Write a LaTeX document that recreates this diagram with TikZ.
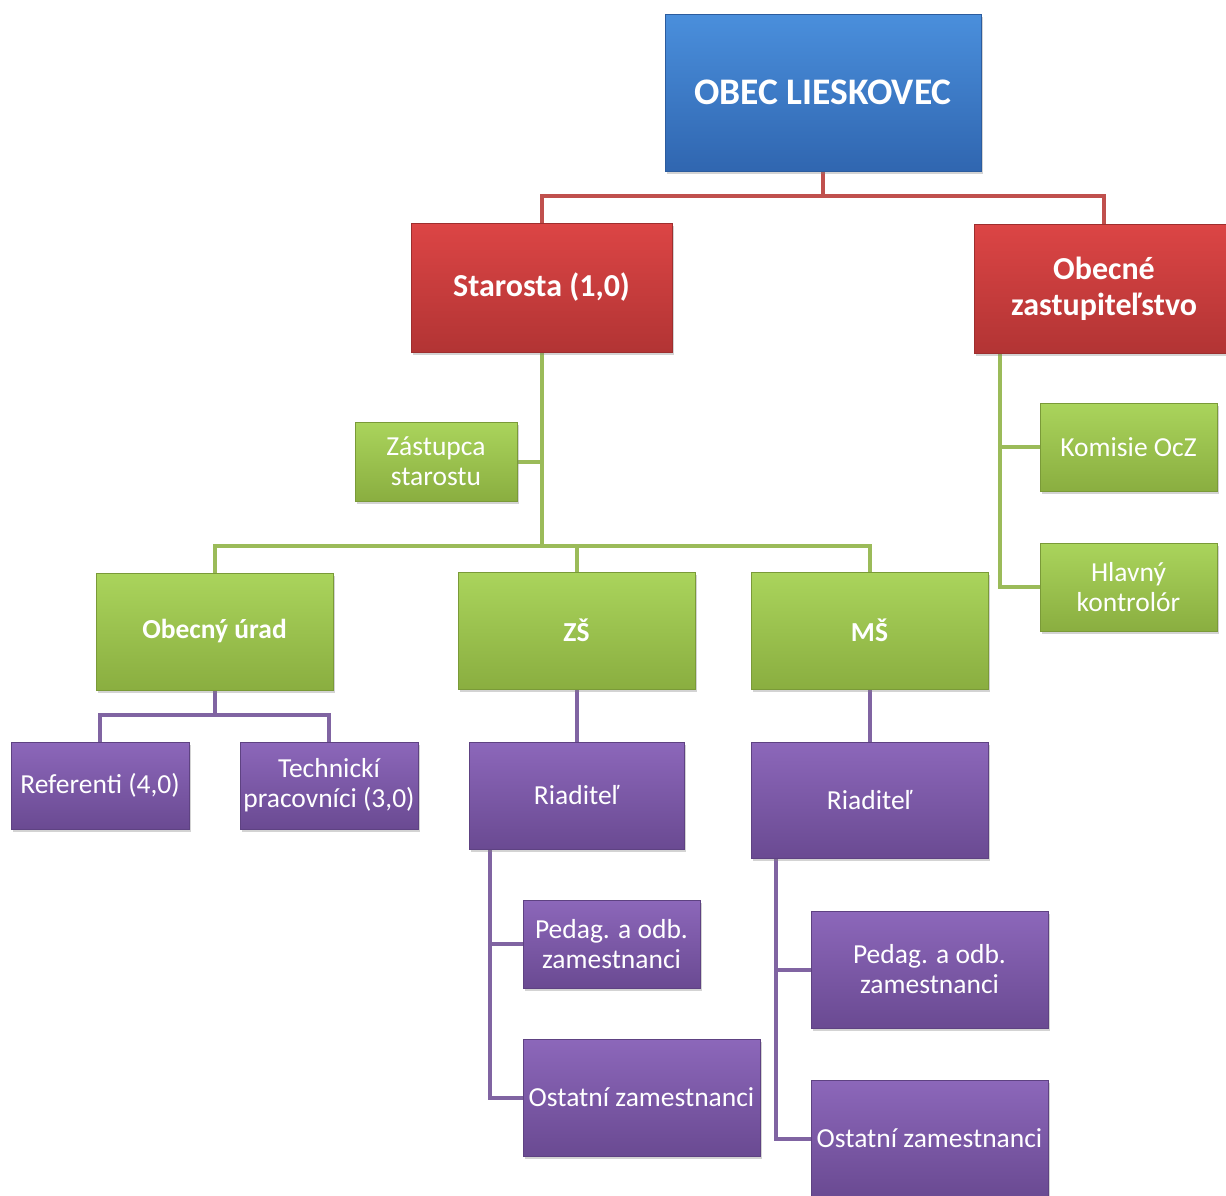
\documentclass[tikz,border=0pt]{standalone}
\usepackage{fontspec}
\setmainfont{Carlito}
\usetikzlibrary{shadows,backgrounds}
\definecolor{blueT}{HTML}{4A8FDC}
\definecolor{blueB}{HTML}{3066B0}
\definecolor{blueD}{HTML}{2C5C9E}
\definecolor{redT}{HTML}{DC4545}
\definecolor{redB}{HTML}{B23434}
\definecolor{redD}{HTML}{9E2E2E}
\definecolor{greenT}{HTML}{AAD45C}
\definecolor{greenB}{HTML}{8AAE40}
\definecolor{greenD}{HTML}{7A9A38}
\definecolor{purpT}{HTML}{8C67BA}
\definecolor{purpB}{HTML}{6A4A92}
\definecolor{purpD}{HTML}{5E4282}
\definecolor{redL}{HTML}{C0504D}
\definecolor{greenL}{HTML}{9BBB59}
\definecolor{purpL}{HTML}{8064A2}
\tikzset{
  box/.style={rectangle, inner sep=0pt, align=center, text=white,
    line width=0.8pt,
    font=\fontsize{27.5}{30}\selectfont,
    drop shadow={shadow xshift=2pt, shadow yshift=-3pt, opacity=0.35}},
  bluebox/.style={box, top color=blueT, bottom color=blueB, draw=blueD,
    font=\fontsize{37.5}{40}\selectfont\bfseries},
  redbox/.style={box, top color=redT, bottom color=redB, draw=redD,
    font=\fontsize{32}{36}\selectfont\bfseries},
  greenbox/.style={box, top color=greenT, bottom color=greenB, draw=greenD},
  boldgreen/.style={greenbox, minimum width=237pt, minimum height=117pt,
    font=\fontsize{27.5}{30}\selectfont\bfseries},
  purpbox/.style={box, top color=purpT, bottom color=purpB, draw=purpD},
  conn/.style={line width=4pt},
  redconn/.style={conn, draw=redL},
  greenconn/.style={conn, draw=greenL},
  purpconn/.style={conn, draw=purpL}
}
\begin{document}
\begin{tikzpicture}[x=1pt,y=-1pt]
\useasboundingbox (0,0) rectangle (1226,1195);

\node[bluebox, minimum width=316pt, minimum height=157pt] (obec) at (823,92.5) {OBEC LIESKOVEC};
\node[redbox, minimum width=261pt, minimum height=129pt] (staro) at (541.5,287.5) {Starosta (1,0)};
\node[redbox, minimum width=260pt, minimum height=129pt] (zast) at (1104,288.5) {Obecné\\zastupiteľstvo};

\node[greenbox, minimum width=162pt, minimum height=79pt] (zas) at (436,461.5) {Zástupca\\starostu};
\node[greenbox, minimum width=177pt, minimum height=88pt] (kom) at (1128.5,447) {Komisie OcZ};
\node[greenbox, minimum width=177pt, minimum height=88pt] (kon) at (1128.5,587) {Hlavný\\kontrolór};
\node[boldgreen] (urad) at (214.5,631.5) {Obecný úrad};
\node[boldgreen] (zs) at (576.5,630.5) {ZŠ};
\node[boldgreen] (ms) at (869.5,630.5) {MŠ};

\node[purpbox, minimum width=178pt, minimum height=87pt] (ref) at (100,785.5) {Referenti (4,0)};
\node[purpbox, minimum width=178pt, minimum height=87pt] (tech) at (329,785.5) {Technickí\\pracovníci (3,0)};
\node[purpbox, minimum width=215pt, minimum height=107pt] (rzs) at (576.5,795.5) {Riaditeľ};
\node[purpbox, minimum width=237pt, minimum height=116pt] (rms) at (869.5,800) {Riaditeľ};
\node[purpbox, minimum width=177pt, minimum height=88pt] (pzs) at (611.5,944) {Pedag. a odb.\\zamestnanci};
\node[purpbox, minimum width=237pt, minimum height=117pt] (ozs) at (641.5,1097.5) {Ostatní zamestnanci};
\node[purpbox, minimum width=237pt, minimum height=117pt] (pms) at (929.5,969.5) {Pedag. a odb.\\zamestnanci};
\node[purpbox, minimum width=237pt, minimum height=117pt] (oms) at (929.5,1138.5) {Ostatní zamestnanci};

\begin{scope}[on background layer]
\coordinate (rbus) at (823,196);
\draw[redconn] (obec.south) -- (rbus);
\draw[redconn] (rbus) -| (staro.north);
\draw[redconn] (rbus) -| (zast.north);

\coordinate (gbus) at (541.5,546);
\draw[greenconn] (staro.south) -- (gbus);
\draw[greenconn] (gbus) -| (urad.north);
\draw[greenconn] (gbus) -| (zs.north);
\draw[greenconn] (gbus) -| (ms.north);
\draw[greenconn] (zas.east) -- (zas.east -| staro.south);

\coordinate (ztop) at (1000,352);
\draw[greenconn] (ztop) |- (kom.west);
\draw[greenconn] (ztop) |- (kon.west);

\coordinate (pbus) at (214.5,715);
\draw[purpconn] (urad.south) -- (pbus);
\draw[purpconn] (pbus) -| (ref.north);
\draw[purpconn] (pbus) -| (tech.north);
\draw[purpconn] (zs.south) -- (rzs.north);
\draw[purpconn] (ms.south) -- (rms.north);

\coordinate (rz) at (490,849);
\draw[purpconn] (rz) |- (pzs.west);
\draw[purpconn] (rz) |- (ozs.west);
\coordinate (rm) at (776,858);
\draw[purpconn] (rm) |- (pms.west);
\draw[purpconn] (rm) |- (oms.west);
\end{scope}
\end{tikzpicture}
\end{document}
